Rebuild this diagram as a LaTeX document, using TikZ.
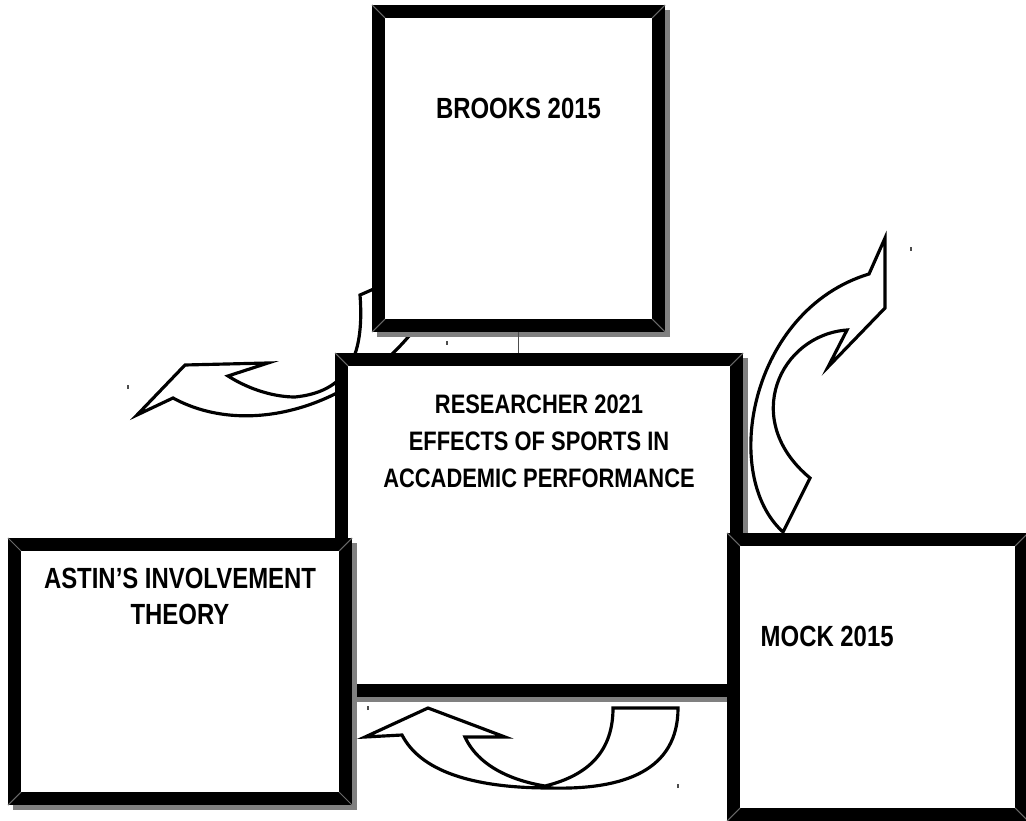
\documentclass[tikz,border=0pt]{standalone}
\usepackage{fontspec}
\setmainfont{Liberation Sans}[FakeStretch=0.82]
\usepackage{tikz}
\usetikzlibrary{positioning}
\definecolor{shadowgrey}{RGB}{128,128,128}
\definecolor{bevelgrey}{RGB}{105,105,105}
\tikzset{
  litbox/.style={draw=black, fill=white, line width=3.7pt,
    preaction={draw=shadowgrey, line width=3.7pt, transform canvas={shift={(0.05,-0.05)}}}},
  boxlbl/.style={inner sep=0pt, align=center, font=\bfseries\fontsize{8.3}{10.3}\selectfont},
  blockarrow/.style={line width=0.9pt, line join=miter},
  bevel/.style={bevelgrey, line width=0.3pt},
  speck/.style={black!70, line width=0.4pt}
}
\newcommand{\framecorners}[1]{%
  \foreach \c/\dx/\dy in {north west/1/-1, north east/-1/-1, south west/1/1, south east/-1/1}
    \draw[bevel] (#1.\c) -- ++(\dx*0.13,\dy*0.13);}

\begin{document}
\begin{tikzpicture}
  \clip (0,0) rectangle (10.26,8.2);
  % left arrow, its tail runs under the boxes
  \draw[blockarrow] (2.28,4.44) .. controls (2.5,4.3) and (2.75,4.23) .. (2.95,4.23)
      .. controls (3.45,4.28) and (3.65,4.6) .. (3.6,5.25) -- (3.76,5.32) -- (4.2,4.98)
      .. controls (3.6,4.15) and (2.5,3.8) .. (1.73,4.22)
      -- (1.37,4.05) -- (1.85,4.55) -- (2.68,4.57) -- cycle;
  % centre box
  \node[litbox, minimum width=3.95cm, minimum height=3.31cm] (centre) at (5.39,2.95) {};
  \framecorners{centre}
  \node[boxlbl, font=\bfseries\fontsize{7.6}{10.5}\selectfont, below=0.41cm of centre.north] (centretxt)
      {RESEARCHER 2021\\EFFECTS OF SPORTS IN\\ACCADEMIC PERFORMANCE};
  % top box
  \node[litbox, minimum width=2.80cm, minimum height=3.14cm] (brooks) at (5.185,6.515) {};
  \framecorners{brooks}
  \node[boxlbl, below=0.92cm of brooks.north] (brookstxt) {BROOKS 2015};
  \draw[shadowgrey!60!black, line width=0.3pt] (brooks.south) -- (brooks.south |- centre.north);
  % right arrow
  \draw[blockarrow] (8.47,4.90) .. controls (7.8,4.85) and (7.4,4.0) .. (8.10,3.42)
      -- (7.83,2.88) .. controls (7.2,3.45) and (7.5,5.1) .. (8.69,5.46)
      -- (8.85,5.82) -- (8.85,5.12) -- (8.28,4.53) -- cycle;
  % side boxes
  \node[litbox, minimum width=3.31cm, minimum height=2.54cm] (astin) at (1.80,1.485) {};
  \framecorners{astin}
  \node[boxlbl, below=0.29cm of astin.north] (astintxt) {ASTIN’S INVOLVEMENT\\THEORY};
  \node[litbox, minimum width=2.88cm, minimum height=2.75cm] (mock) at (8.775,1.43) {};
  \framecorners{mock}
  \node[boxlbl, below right=0.92cm and 0.33cm of mock.north west] (mocktxt) {MOCK 2015};
  % bottom arrow
  \draw[blockarrow] (6.13,1.12) -- (6.78,1.12)
      .. controls (6.78,0.5) and (6.25,0.3) .. (5.5,0.32)
      .. controls (4.7,0.32) and (4.2,0.5) .. (4.02,0.85)
      -- (3.65,0.83) -- (4.28,1.12) -- (5.05,0.83) -- (4.65,0.83)
      .. controls (4.8,0.5) and (5.2,0.38) .. (5.45,0.34)
      .. controls (5.9,0.45) and (6.13,0.7) .. (6.13,1.12) -- cycle;
  % stray specks
  \foreach \x/\y in {1.28/4.31, 4.47/4.75, 9.11/5.69, 3.68/1.10, 6.78/0.32}
    \draw[speck] (\x,\y) -- ++(0,0.04);
\end{tikzpicture}
\end{document}
